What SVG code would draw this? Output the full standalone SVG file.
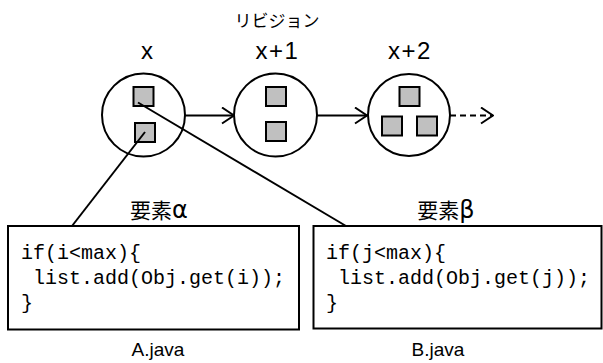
<svg xmlns="http://www.w3.org/2000/svg" width="603" height="363" viewBox="0 0 603 363">
<style>
.ring{fill:#fff;stroke:#000;stroke-width:2}
.sq{fill:#c0c0c0;stroke:#000;stroke-width:2}
.box{fill:#fff;stroke:#000;stroke-width:2}
.ln{stroke:#000;stroke-width:2;fill:none}
.lbl{font-family:"Liberation Sans","Noto Sans CJK JP",sans-serif;fill:#000;text-anchor:middle}
.jp{font-family:"Noto Sans CJK JP","Liberation Sans",sans-serif;fill:#000;text-anchor:middle}
.gr{font-family:"DejaVu Sans","Noto Sans",sans-serif;font-size:24px}
.code{font-family:"Liberation Mono","DejaVu Sans Mono",monospace;font-size:20px;fill:#000;white-space:pre}
</style>
<defs>
<marker id="open" viewBox="0 0 14 18" refX="13" refY="9" markerWidth="14" markerHeight="18" markerUnits="userSpaceOnUse" orient="auto">
<path d="M1,1 L13,9 L1,17" fill="none" stroke="#000" stroke-width="2"/>
</marker>
</defs>
<text class="jp" x="277" y="27" font-size="17">リビジョン</text>
<g id="rev-x">
<text class="lbl" x="147" y="59" font-size="24">x</text>
<circle class="ring" cx="143.5" cy="115" r="41.5"/>
<rect class="sq" x="133.5" y="87" width="20" height="19"/>
<rect class="sq" x="135" y="123" width="20" height="19"/>
</g>
<g id="rev-x1">
<text class="lbl" x="277.5" y="59" font-size="24" letter-spacing="1.5">x+1</text>
<circle class="ring" cx="275.5" cy="115" r="41.5"/>
<rect class="sq" x="266" y="87" width="20" height="19"/>
<rect class="sq" x="266" y="122" width="20" height="19"/>
</g>
<g id="rev-x2">
<text class="lbl" x="410" y="59" font-size="24" letter-spacing="1.5">x+2</text>
<circle class="ring" cx="409" cy="115" r="41"/>
<rect class="sq" x="399.5" y="87" width="20" height="19"/>
<rect class="sq" x="382" y="116.5" width="20" height="19"/>
<rect class="sq" x="417" y="116.5" width="20" height="19"/>
</g>
<g id="a-java">
<text class="jp" x="159" y="217.5" font-size="21">要素<tspan class="gr">α</tspan></text>
<rect class="box" x="8" y="226" width="291" height="103.5"/>
<text class="code" x="21" y="259">if(i&lt;max){</text>
<text class="code" x="21" y="284"> list.add(Obj.get(i));</text>
<text class="code" x="21" y="309">}</text>
<text class="lbl" x="158" y="356" font-size="19">A.java</text>
</g>
<g id="b-java">
<text class="jp" x="446" y="217.5" font-size="21">要素<tspan class="gr">β</tspan></text>
<rect class="box" x="313.5" y="226" width="288" height="102.5"/>
<text class="code" x="326" y="259">if(j&lt;max){</text>
<text class="code" x="326" y="284"> list.add(Obj.get(j));</text>
<text class="code" x="326" y="309">}</text>
<text class="lbl" x="438" y="356" font-size="19">B.java</text>
</g>
<g id="connectors">
<line class="ln" x1="185" y1="115.5" x2="234" y2="115.5" marker-end="url(#open)"/>
<line class="ln" x1="317" y1="115.5" x2="367" y2="115.5" marker-end="url(#open)"/>
<line class="ln" x1="450" y1="115.5" x2="493" y2="115.5" stroke-dasharray="6,4" marker-end="url(#open)"/>
<line class="ln" x1="145" y1="132" x2="72" y2="226"/>
<line class="ln" x1="138" y1="102.5" x2="346" y2="226"/>
</g>
</svg>
